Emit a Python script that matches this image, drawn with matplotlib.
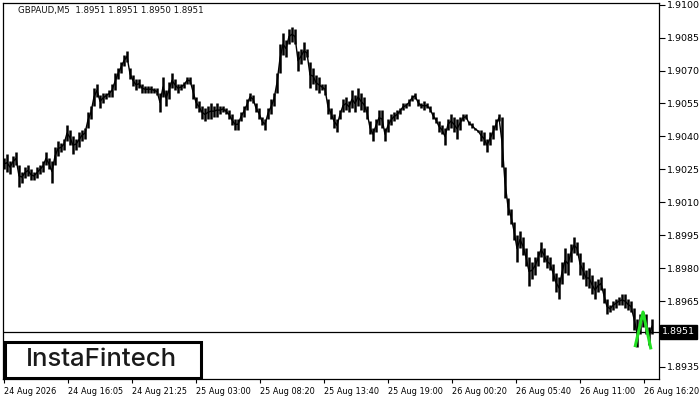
import matplotlib

matplotlib.use("Agg")
import matplotlib.pyplot as plt
import numpy as np
from matplotlib.patches import Rectangle

# GBPAUD M5 — each plotted bar groups 3 five-minute bars (high / low)
HIGH = [
    1.9030, 1.9032, 1.9029, 1.9031, 1.9033, 1.9027, 1.9024, 1.9026, 1.9027, 1.9025,
    1.9024, 1.9026, 1.9027, 1.9029, 1.9033, 1.9030, 1.9029, 1.9035, 1.9038, 1.9037,
    1.9039, 1.9045, 1.9043, 1.9040, 1.9039, 1.9042, 1.9043, 1.9044, 1.9051, 1.9054,
    1.9062, 1.9064, 1.9059, 1.9060, 1.9060, 1.9061, 1.9064, 1.9069, 1.9071, 1.9074,
    1.9077, 1.9079, 1.9071, 1.9068, 1.9066, 1.9066, 1.9064, 1.9063, 1.9063, 1.9063,
    1.9062, 1.9062, 1.9060, 1.9067, 1.9061, 1.9065, 1.9069, 1.9066, 1.9064, 1.9064,
    1.9065, 1.9067, 1.9067, 1.9064, 1.9058, 1.9056, 1.9054, 1.9053, 1.9054, 1.9055,
    1.9054, 1.9055, 1.9054, 1.9054, 1.9053, 1.9052, 1.9050, 1.9048, 1.9048, 1.9051,
    1.9054, 1.9057, 1.9060, 1.9059, 1.9055, 1.9053, 1.9049, 1.9048, 1.9053, 1.9057,
    1.9060, 1.9069, 1.9082, 1.9087, 1.9084, 1.9089, 1.9090, 1.9089, 1.9079, 1.9080,
    1.9083, 1.9080, 1.9074, 1.9071, 1.9068, 1.9067, 1.9064, 1.9064, 1.9057, 1.9053,
    1.9050, 1.9048, 1.9052, 1.9057, 1.9058, 1.9056, 1.9061, 1.9059, 1.9062, 1.9060,
    1.9058, 1.9054, 1.9047, 1.9044, 1.9048, 1.9052, 1.9052, 1.9044, 1.9048, 1.9050,
    1.9051, 1.9052, 1.9053, 1.9055, 1.9055, 1.9057, 1.9059, 1.9060, 1.9057, 1.9055,
    1.9056, 1.9055, 1.9054, 1.9051, 1.9049, 1.9047, 1.9045, 1.9044, 1.9048, 1.9050,
    1.9049, 1.9048, 1.9049, 1.9050, 1.9050, 1.9047, 1.9046, 1.9044, 1.9043, 1.9043,
    1.9042, 1.9039, 1.9042, 1.9045, 1.9048, 1.9050, 1.9049, 1.9026, 1.9012, 1.9007,
    1.9001, 1.8995, 1.8997, 1.8994, 1.8989, 1.8985, 1.8983, 1.8985, 1.8988, 1.8992,
    1.8989, 1.8986, 1.8985, 1.8982, 1.8978, 1.8976, 1.8983, 1.8989, 1.8987, 1.8991,
    1.8994, 1.8992, 1.8987, 1.8983, 1.8979, 1.8980, 1.8977, 1.8974, 1.8975, 1.8976,
    1.8971, 1.8966, 1.8963, 1.8965, 1.8966, 1.8967, 1.8968, 1.8968, 1.8966, 1.8965,
    1.8962, 1.8957, 1.8959, 1.8960, 1.8959, 1.8953, 1.8957,
]
LOW = [
    1.9025, 1.9024, 1.9023, 1.9026, 1.9027, 1.9017, 1.9019, 1.9021, 1.9022, 1.9020,
    1.9020, 1.9021, 1.9023, 1.9024, 1.9027, 1.9025, 1.9019, 1.9027, 1.9031, 1.9033,
    1.9034, 1.9038, 1.9036, 1.9032, 1.9034, 1.9035, 1.9038, 1.9039, 1.9044, 1.9048,
    1.9054, 1.9058, 1.9053, 1.9055, 1.9057, 1.9058, 1.9058, 1.9061, 1.9066, 1.9069,
    1.9072, 1.9074, 1.9066, 1.9063, 1.9061, 1.9062, 1.9060, 1.9060, 1.9060, 1.9060,
    1.9060, 1.9059, 1.9051, 1.9058, 1.9054, 1.9057, 1.9062, 1.9061, 1.9060, 1.9061,
    1.9062, 1.9064, 1.9064, 1.9057, 1.9053, 1.9051, 1.9048, 1.9047, 1.9048, 1.9048,
    1.9049, 1.9049, 1.9050, 1.9051, 1.9050, 1.9048, 1.9045, 1.9043, 1.9043, 1.9047,
    1.9049, 1.9052, 1.9056, 1.9055, 1.9051, 1.9048, 1.9045, 1.9043, 1.9048, 1.9050,
    1.9054, 1.9060, 1.9069, 1.9077, 1.9076, 1.9082, 1.9083, 1.9082, 1.9070, 1.9073,
    1.9075, 1.9076, 1.9062, 1.9064, 1.9061, 1.9060, 1.9061, 1.9059, 1.9050, 1.9048,
    1.9044, 1.9042, 1.9048, 1.9051, 1.9052, 1.9051, 1.9053, 1.9051, 1.9054, 1.9052,
    1.9051, 1.9048, 1.9041, 1.9038, 1.9042, 1.9045, 1.9044, 1.9038, 1.9042, 1.9045,
    1.9047, 1.9048, 1.9050, 1.9052, 1.9053, 1.9054, 1.9056, 1.9057, 1.9054, 1.9053,
    1.9052, 1.9053, 1.9051, 1.9048, 1.9046, 1.9042, 1.9041, 1.9036, 1.9043, 1.9044,
    1.9042, 1.9039, 1.9043, 1.9047, 1.9048, 1.9045, 1.9044, 1.9043, 1.9042, 1.9038,
    1.9036, 1.9033, 1.9036, 1.9039, 1.9043, 1.9047, 1.9026, 1.9012, 1.9004, 1.9000,
    1.8993, 1.8983, 1.8989, 1.8986, 1.8981, 1.8972, 1.8975, 1.8977, 1.8981, 1.8985,
    1.8983, 1.8980, 1.8979, 1.8974, 1.8969, 1.8966, 1.8973, 1.8978, 1.8977, 1.8983,
    1.8987, 1.8986, 1.8977, 1.8975, 1.8972, 1.8971, 1.8968, 1.8966, 1.8969, 1.8970,
    1.8964, 1.8959, 1.8960, 1.8961, 1.8962, 1.8963, 1.8963, 1.8962, 1.8961, 1.8960,
    1.8952, 1.8944, 1.8950, 1.8953, 1.8950, 1.8945, 1.8950,
]
M5_PER_BAR = 3

# pattern marker (green) — position in M5 bars from the chart start, price
PATTERN_X = [631, 639, 647]
PATTERN_Y = [1.8944, 1.8960, 1.8943]

LAST_PRICE = 1.8951
TITLE = "GBPAUD,M5  1.8951 1.8951 1.8950 1.8951"

TIME_LABELS = ["24 Aug 2026", "24 Aug 16:05", "24 Aug 21:25", "25 Aug 03:00",
               "25 Aug 08:20", "25 Aug 13:40", "25 Aug 19:00", "26 Aug 00:20",
               "26 Aug 05:40", "26 Aug 11:00", "26 Aug 16:20"]
M5_PER_LABEL = 64
PRICE_TICKS = [1.9100, 1.9085, 1.9070, 1.9055, 1.9040, 1.9025, 1.9010,
               1.8995, 1.8980, 1.8965, 1.8935]


def main():
    fig = plt.figure(figsize=(7, 4), dpi=100)
    ax = fig.add_axes([3 / 700, 21 / 400, 656 / 700, 376.5 / 400])

    x = np.arange(len(HIGH)) * M5_PER_BAR
    hi, lo = np.array(HIGH), np.array(LOW)
    ax.vlines(x, lo, hi, color="black", lw=1.8, zorder=2)
    # join neighbouring bars like the dense M5 bars do
    ax.plot(x, (hi + lo) / 2, color="black", lw=1.0, zorder=2)
    ax.plot(PATTERN_X, PATTERN_Y, color="#22e022", lw=2.2, zorder=3,
            solid_capstyle="butt")
    ax.axhline(LAST_PRICE, color="black", lw=0.9, zorder=2)

    ax.set_xlim(-1, 655)
    ax.set_ylim(1.89295, 1.91010)

    # price scale on the right, MetaTrader-like
    ax.yaxis.tick_right()
    ax.set_yticks(PRICE_TICKS)
    ax.set_yticklabels([f"{p:.4f}" for p in PRICE_TICKS])
    ax.tick_params(axis="y", direction="out", length=4, width=0.8,
                   labelsize=6.8, pad=2)

    ax.set_xticks(np.arange(len(TIME_LABELS)) * M5_PER_LABEL)
    ax.set_xticklabels(TIME_LABELS)
    for lab in ax.get_xticklabels():
        lab.set_horizontalalignment("left")
    ax.tick_params(axis="x", direction="out", length=3, width=0.8,
                   labelsize=5.9, pad=2.5)

    for s in ax.spines.values():
        s.set_linewidth(0.9)

    # current price box
    ax.text(1.0 + 3 / 656, LAST_PRICE, f"{LAST_PRICE:.4f}",
            transform=ax.get_yaxis_transform(), color="white", fontsize=6.8,
            ha="left", va="center", zorder=5,
            bbox=dict(boxstyle="square,pad=0.25", facecolor="black",
                      edgecolor="black"), clip_on=False)

    # logo box
    ax.add_patch(Rectangle((1.5 / 656, 1.5 / 376.5), 196 / 656, 36 / 376.5,
                           transform=ax.transAxes, facecolor="white",
                           edgecolor="black", lw=2.2, zorder=4))
    ax.text(0.150, 0.052, "InstaFintech", transform=ax.transAxes,
            family=["Inter", "DejaVu Sans"], fontweight="medium",
            fontsize=18.5, color="#1a1a1a", ha="center", va="center", zorder=5)

    fig.text(18 / 700, 1 - 11 / 400, TITLE, fontsize=6.2, va="center",
             ha="left", color="#111111")

    fig.savefig("out.png", dpi=100)


if __name__ == "__main__":
    main()
